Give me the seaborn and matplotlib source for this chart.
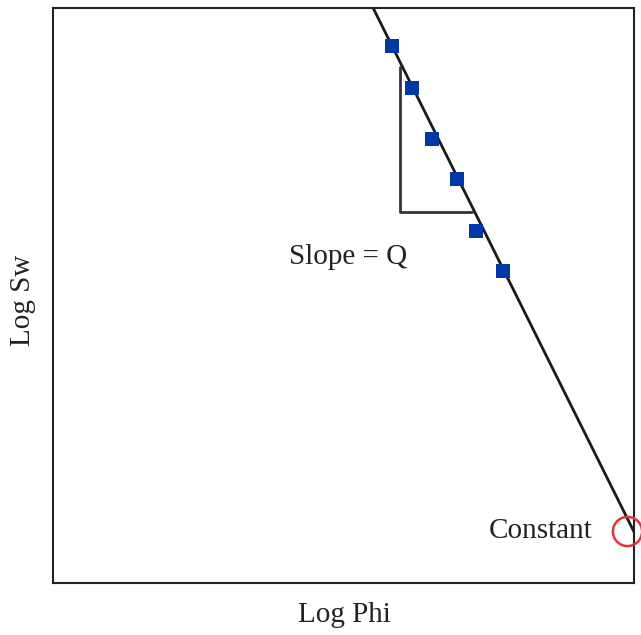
import numpy as np
import pandas as pd
import matplotlib.pyplot as plt
import seaborn as sns

# data points (arbitrary log units)
log_phi = [5.83, 6.18, 6.52, 6.95, 7.28, 7.75]
log_sw = [9.34, 8.61, 7.72, 7.03, 6.12, 5.43]

# fitted line end points
line_x = [5.51, 10.0]
line_y = [10.0, 0.89]

# slope triangle
tri_x = [5.97, 5.97, 7.21]
tri_y = [8.97, 6.45, 6.45]

# "constant" marker
const_x = 9.88
const_y = 0.9

sns.set_style("white")
plt.rcParams['font.family'] = ['Liberation Serif', 'DejaVu Serif']

fig = plt.figure(figsize=(6.41, 6.35), dpi=100)
ax = fig.add_axes([53 / 641, 52 / 635, 581 / 641, 575 / 635])

points = pd.DataFrame({'Log Phi': log_phi, 'Log Sw': log_sw})
fit = pd.DataFrame({'x': line_x, 'y': line_y})

sns.lineplot(data=fit, x='x', y='y', color='#1a1a1a', linewidth=2, ax=ax)
ax.plot(tri_x, tri_y, color='#333333', linewidth=2)
sns.scatterplot(
    data=points,
    x='Log Phi',
    y='Log Sw',
    marker='s',
    s=105,
    color='#0039a6',
    edgecolor='none',
    zorder=3,
    ax=ax
)

ax.plot(
    [const_x], [const_y],
    marker='o',
    markersize=21,
    markerfacecolor='none',
    markeredgecolor='#e8303a',
    markeredgewidth=1.8,
    clip_on=False,
    zorder=4
)

ax.text(5.08, 5.67, 'Slope = Q', fontsize=21, ha='center', va='center', color='#222222')
ax.text(8.4, 0.9, 'Constant', fontsize=21, ha='center', va='center', color='#222222')

ax.set_xlim(0, 10)
ax.set_ylim(0, 10)
ax.set_xticks([])
ax.set_yticks([])

for side in ax.spines.values():
    side.set_color('#222222')
    side.set_linewidth(1.5)

fig.text(344 / 641, 1 - 615 / 635, 'Log Phi', fontsize=21, ha='center', va='center', color='#222222')
fig.text(23 / 641, 1 - 300 / 635, 'Log Sw', fontsize=21, ha='center', va='center',
         rotation=90, color='#222222')
ax.set_xlabel('')
ax.set_ylabel('')

fig.savefig('out.png', dpi=100)
